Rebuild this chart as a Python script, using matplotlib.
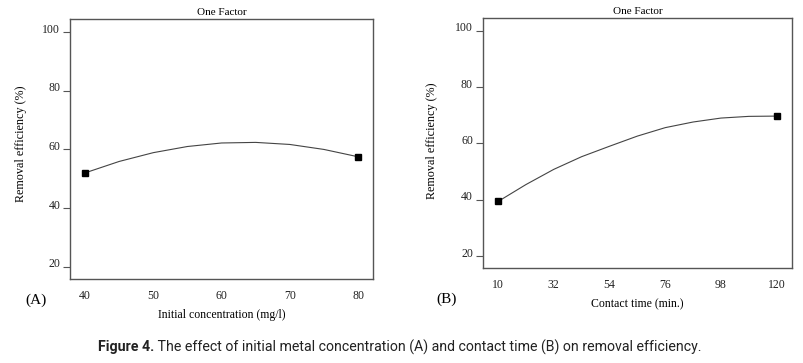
import matplotlib
matplotlib.use("Agg")
import matplotlib.pyplot as plt
from matplotlib.transforms import ScaledTranslation

# panel A: initial concentration (mg/l) vs removal efficiency (%)
conc_x = [40, 45, 50, 55, 60, 65, 70, 75, 80]
conc_y = [52.0, 55.9, 58.9, 61.0, 62.2, 62.4, 61.7, 60.0, 57.5]
conc_pts_x = [40, 80]
conc_pts_y = [52.0, 57.5]
conc_ticks = [40, 50, 60, 70, 80]

# panel B: contact time (min.) vs removal efficiency (%)
time_x = [10, 21, 32, 43, 54, 65, 76, 87, 98, 109, 120]
time_y = [39.4, 45.4, 50.8, 55.3, 59.0, 62.6, 65.6, 67.6, 69.0, 69.6, 69.7]
time_pts_x = [10, 120]
time_pts_y = [39.4, 69.7]
time_ticks = [10, 32, 54, 76, 98, 120]

y_ticks = [20, 40, 60, 80, 100]

SERIF = ["Liberation Serif", "DejaVu Serif"]
plt.rcParams.update({"font.family": SERIF, "font.size": 8})

fig = plt.figure(figsize=(8.04, 3.63), dpi=100)
ax_a = fig.add_axes([0.0871, 0.2314, 0.3769, 0.7163])
ax_b = fig.add_axes([0.6004, 0.2617, 0.3847, 0.6887])

# design-expert style: y labels sit a little above their tick marks
lift = ScaledTranslation(0, 4 / 100, fig.dpi_scale_trans)


def style(ax, xs, ys, px, py, ticks, xlabel):
    ax.plot(xs, ys, color="#444444", lw=0.8)
    ax.plot(px, py, ls="none", marker="s", ms=5, color="black")
    ax.set_xticks(ticks)
    ax.set_yticks(y_ticks)
    span = ticks[-1] - ticks[0]
    ax.set_xlim(ticks[0] - 0.055 * span, ticks[-1] + 0.055 * span)
    ax.set_ylim(15.8, 104.5)
    for s in ax.spines.values():
        s.set_color("#555555")
        s.set_linewidth(1.0)
    ax.tick_params(axis="x", length=0, pad=8, labelsize=8.5,
                   labelcolor="#222222")
    ax.tick_params(axis="y", length=5, pad=2, labelsize=8.5,
                   labelcolor="#222222", color="#555555")
    for lab in ax.get_yticklabels():
        lab.set_transform(lab.get_transform() + lift)
    ax.set_title("One Factor", fontsize=8, pad=3)
    ax.set_xlabel(xlabel, fontsize=8.5, labelpad=5)
    ax.set_ylabel("Removal efficiency (%)", fontsize=8.7)


style(ax_a, conc_x, conc_y, conc_pts_x, conc_pts_y, conc_ticks,
      "Initial concentration (mg/l)")
style(ax_b, time_x, time_y, time_pts_x, time_pts_y, time_ticks,
      "Contact time (min.)")
ax_a.yaxis.set_label_coords(-0.142, 0.52)
ax_b.yaxis.set_label_coords(-0.145, 0.51)

fig.text(25 / 804, 1 - 300 / 363, "(A)", fontsize=11, va="center",
         ha="left")
fig.text(436 / 804, 1 - 299 / 363, "(B)", fontsize=11, va="center",
         ha="left")

CAP = ["Roboto", "Liberation Sans", "DejaVu Sans"]
t1 = fig.text(98 / 804, 1 - 347 / 363, "Figure 4.", family=CAP,
              fontsize=10.2, fontweight="bold", va="center", ha="left",
              color="#222222")
ax_a.annotate(" The effect of initial metal concentration (A) and contact "
              "time (B) on removal efficiency.", xy=(1, 0.5), xycoords=t1,
              va="center", ha="left", family=CAP, fontsize=10.2,
              color="#222222", annotation_clip=False)

fig.savefig("out.png", dpi=100)
